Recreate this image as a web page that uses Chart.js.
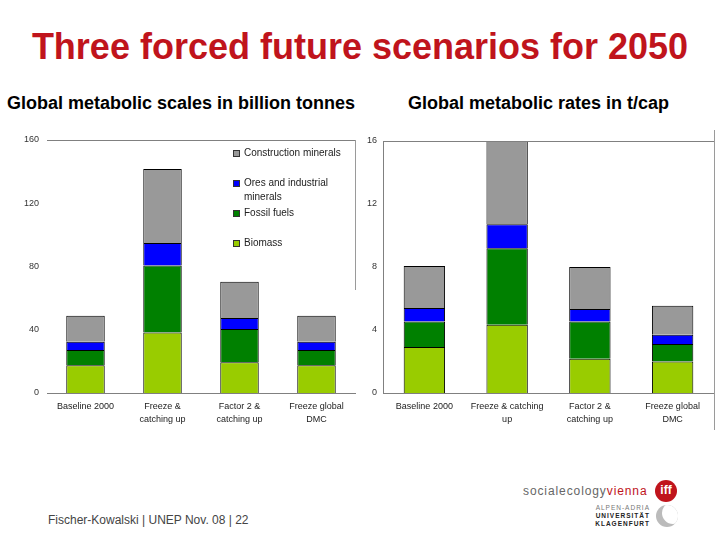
<!DOCTYPE html>
<html><head><meta charset="utf-8">
<script src="https://cdn.jsdelivr.net/npm/chart.js@4/dist/chart.umd.min.js"></script>
<style>
body{margin:0;width:720px;height:540px;position:relative;background:#fff;font-family:"Liberation Sans",Arial,sans-serif;overflow:hidden}
#title{position:absolute;left:0;width:720px;top:26px;text-align:center;color:#c0141c;font-size:36px;font-weight:bold;white-space:nowrap}
.sub{position:absolute;top:93px;font-size:18px;font-weight:bold;color:#000;white-space:nowrap}
.wrap{position:absolute;top:130px;width:360px;height:300px}
#legend{position:absolute;left:233px;top:146px;font-size:10px;color:#222}
.li{position:absolute;left:0;white-space:nowrap;line-height:14px}
.sw{position:absolute;left:0;top:4px;width:7px;height:7px;border:1px solid #333;box-sizing:border-box}
.lt{position:absolute;left:11px;top:0}
#footer{position:absolute;left:48px;top:513px;font-size:12px;color:#444;white-space:nowrap}
.vline{position:absolute;width:1px;background:#9a9a9a}
#sev{position:absolute;left:523px;top:484px;font-size:12px;letter-spacing:0.9px;color:#666;white-space:nowrap}
#iff{position:absolute;left:655px;top:480px;width:22px;height:22px;border-radius:50%;background:#c0141c;color:#fff;font-weight:bold;font-size:12px;text-align:center;line-height:21px}
.uni{position:absolute;font-size:6.5px;white-space:nowrap;letter-spacing:1px;text-align:right;width:80px}
#cres{position:absolute;left:656px;top:505px;width:22px;height:22px;border-radius:50%;background:#bbb;overflow:hidden}
#cres div{position:absolute;left:6px;top:-3px;width:22px;height:22px;border-radius:50%;background:#fff}
</style></head><body>
<div id="title">Three forced future scenarios for 2050</div>
<div class="sub" style="left:7px">Global metabolic scales in billion tonnes</div>
<div class="sub" style="left:408px">Global metabolic rates in t/cap</div>
<div class="wrap" style="left:0"><canvas id="c1" width="360" height="300"></canvas></div>
<div class="wrap" style="left:360px"><canvas id="c2" width="360" height="300"></canvas></div>
<div id="legend"></div>
<div class="vline" style="left:355px;top:140px;height:150px"></div>
<div class="vline" style="left:714px;top:130px;height:300px"></div>
<div id="footer">Fischer-Kowalski | UNEP Nov. 08 | 22</div>
<div id="sev">socialecology<span style="color:#c0141c">vienna</span></div>
<div id="iff">iff</div>
<div class="uni" style="left:570px;top:504px;color:#777">ALPEN-ADRIA</div>
<div class="uni" style="left:570px;top:512px;color:#222;font-weight:bold">UNIVERSITÄT</div>
<div class="uni" style="left:570px;top:520px;color:#222;font-weight:bold">KLAGENFURT</div>
<div id="cres"><div></div></div>
<script>
const categoriesScale = [["Baseline 2000"], ["Freeze &", "catching up"], ["Factor 2 &", "catching up"], ["Freeze global", "DMC"]];
const categoriesRate = [["Baseline 2000"], ["Freeze & catching", "up"], ["Factor 2 &", "catching up"], ["Freeze global", "DMC"]];
const seriesNames = ["Biomass", "Fossil fuels", "Ores and industrial minerals", "Construction minerals"];
const legendLabels = [["Construction minerals"], ["Ores and industrial", "minerals"], ["Fossil fuels"], ["Biomass"]];
const seriesColors = ["#99cc00", "#008000", "#0000ff", "#999999"];

const biomassScale = [17.5, 38.3, 19.4, 17.5];
const fossilScale = [9.7, 42.4, 21.1, 9.7];
const oresScale = [5.2, 14.2, 6.9, 5.2];
const constructionScale = [16.5, 46.8, 23.0, 16.5];

const biomassRate = [2.92, 4.33, 2.17, 2.00];
const fossilRate = [1.62, 4.86, 2.37, 1.11];
const oresRate = [0.85, 1.53, 0.79, 0.59];
const constructionRate = [2.68, 5.28, 2.67, 1.84];

const yTicksScale = [0, 40, 80, 120, 160];
const yTicksRate = [0, 4, 8, 12, 16];

// HTML legend built from series arrays (reversed order)
const leg = document.getElementById('legend');
legendLabels.forEach((lines, i) => {
  const idx = seriesColors.length - 1 - i;
  const d = document.createElement('div');
  d.className = 'li';
  d.style.top = (i * 30) + 'px';
  d.innerHTML = '<div class="sw" style="background:' + seriesColors[idx] + '"></div><div class="lt">' + lines.join('<br>') + '</div>';
  leg.appendChild(d);
});

const framePlugin = {
  id: 'frame',
  afterDraw(chart) {
    const {ctx, chartArea: a} = chart;
    ctx.save();
    ctx.strokeStyle = '#808080';
    ctx.lineWidth = 1;
    ctx.beginPath();
    ctx.moveTo(a.left, a.top + 0.5);
    ctx.lineTo(a.right, a.top + 0.5);
    ctx.stroke();
    ctx.restore();
  }
};

function makeChart(id, cats, vals, ticks, yWidth, padRight, padTop, showYBorder, yPad) {
  const datasets = vals.map((v, i) => ({
    label: seriesNames[i],
    data: v,
    backgroundColor: seriesColors[i],
    borderColor: '#000',
    borderWidth: 1,
    barPercentage: 0.5,
    categoryPercentage: 1.0
  }));
  return new Chart(document.getElementById(id), {
    type: 'bar',
    data: {labels: cats, datasets},
    options: {
      responsive: false,
      animation: false,
      layout: {padding: {top: padTop, right: padRight, left: 0, bottom: 0}},
      plugins: {legend: {display: false}, tooltip: {enabled: false}},
      scales: {
        x: {
          stacked: true,
          grid: {display: false, drawTicks: false},
          border: {display: true, color: '#808080'},
          ticks: {color: '#222', font: {size: 9, family: 'Liberation Sans', lineHeight: 1.45}, padding: 7, maxRotation: 0, autoSkip: false},
          afterFit: s => { s.height = 37; s.paddingLeft = 0; s.paddingRight = 0; }
        },
        y: {
          stacked: true,
          min: ticks[0],
          max: ticks[ticks.length - 1],
          afterBuildTicks: s => { s.ticks = ticks.map(v => ({value: v})); },
          grid: {display: false, drawTicks: false},
          border: {display: showYBorder, color: '#808080'},
          ticks: {color: '#333', font: {size: 9, family: 'Liberation Sans'}, padding: yPad},
          afterFit: s => { s.width = yWidth; s.paddingTop = 0; s.paddingBottom = 0; }
        }
      }
    },
    plugins: [framePlugin]
  });
}

makeChart('c1', categoriesScale, [biomassScale, fossilScale, oresScale, constructionScale], yTicksScale, 47, 5, 10, false, 8);
makeChart('c2', categoriesRate, [biomassRate, fossilRate, oresRate, constructionRate], yTicksRate, 23, 6, 11, true, 6);
</script>
</body></html>
